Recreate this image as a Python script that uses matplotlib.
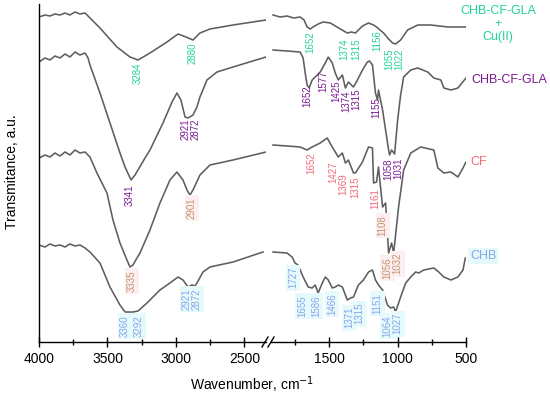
import matplotlib
matplotlib.use("Agg")
import matplotlib.pyplot as plt

plt.rcParams['font.family'] = ['Liberation Sans', 'DejaVu Sans']

# Wavenumber (cm-1) and relative transmittance for each spectrum
# left panel: 4000-2340, right panel: 1910-500

cu_wn_l = [4000, 3956, 3920, 3883, 3847, 3810, 3774, 3737, 3701, 3664, 3642, 3555, 3431, 3336,
           3277, 3190, 3066, 2985, 2927, 2876, 2825, 2752, 2584, 2343]
cu_t_l = [325, 327, 326, 328, 327, 329, 327, 330, 328, 329, 326, 314, 295, 285,
          282, 289, 300, 308, 305, 302, 309, 313, 317, 322]
cu_wn_r = [1911, 1860, 1809, 1760, 1713, 1684, 1662, 1639, 1618, 1581, 1544, 1492, 1419, 1368,
           1338, 1309, 1257, 1213, 1176, 1154, 1103, 1066, 1037, 1015, 978, 927, 853, 757, 632, 500]
cu_t_r = [327, 325, 326, 324, 325, 322, 315, 313, 315, 318, 320, 319, 313, 309,
          310, 309, 316, 319, 317, 315, 309, 303, 299, 298, 302, 312, 317, 317, 315, 315]

gla_wn_l = [4000, 3956, 3920, 3883, 3847, 3810, 3774, 3737, 3701, 3664, 3642, 3628, 3555, 3482,
            3409, 3372, 3328, 3299, 3226, 3190, 3095, 3029, 2993, 2964, 2934, 2912, 2876, 2847,
            2825, 2774, 2701, 2584, 2343]
gla_t_l = [280, 284, 282, 286, 284, 288, 285, 290, 287, 289, 284, 277, 249, 219,
           189, 175, 162, 167, 184, 192, 219, 240, 249, 242, 225, 224, 227, 235,
           245, 262, 270, 275, 285]
gla_wn_r = [1911, 1809, 1713, 1691, 1676, 1662, 1647, 1625, 1588, 1566, 1529, 1507, 1478, 1456,
            1434, 1404, 1382, 1360, 1323, 1294, 1257, 1221, 1206, 1184, 1162, 1147, 1140, 1110,
            1088, 1066, 1059, 1044, 1022, 1000, 978, 956, 904, 853, 780, 735, 684, 662, 610, 559, 500]
gla_t_r = [292, 291, 290, 284, 269, 257, 254, 262, 267, 270, 279, 285, 279, 269,
           262, 267, 254, 260, 255, 262, 272, 280, 281, 277, 249, 242, 252, 232,
           212, 192, 187, 192, 188, 222, 247, 265, 272, 274, 270, 264, 262, 254, 252, 254, 264]

cf_wn_l = [4000, 3956, 3920, 3883, 3847, 3810, 3774, 3737, 3701, 3664, 3628, 3577, 3504, 3460,
           3409, 3358, 3336, 3314, 3285, 3263, 3190, 3117, 3044, 2993, 2949, 2920, 2898, 2876,
           2825, 2752, 2584, 2343]
cf_t_l = [184, 187, 185, 189, 186, 190, 187, 192, 189, 190, 185, 169, 149, 122,
          99, 82, 75, 77, 84, 89, 112, 139, 162, 170, 162, 152, 147, 152,
          167, 177, 182, 190]
cf_wn_r = [1911, 1809, 1713, 1662, 1639, 1566, 1515, 1478, 1434, 1404, 1382, 1360, 1323, 1309,
           1257, 1213, 1184, 1176, 1154, 1140, 1110, 1088, 1066, 1044, 1029, 993, 956, 904,
           831, 735, 706, 662, 610, 559, 522, 500]
cf_t_r = [197, 196, 195, 192, 194, 199, 204, 195, 185, 189, 179, 182, 169, 169,
          180, 195, 194, 159, 160, 175, 135, 139, 89, 99, 89, 135, 172, 189,
          195, 192, 174, 169, 170, 165, 174, 180]

chb_wn_l = [4000, 3956, 3920, 3883, 3847, 3810, 3774, 3737, 3701, 3664, 3628, 3555, 3482, 3409,
            3372, 3314, 3277, 3212, 3117, 3044, 2985, 2949, 2912, 2883, 2862, 2847, 2803, 2752,
            2584, 2365]
chb_t_l = [97, 95, 98, 96, 97, 95, 98, 96, 97, 94, 90, 79, 55, 37,
           30, 30, 31, 39, 52, 59, 65, 62, 55, 57, 56, 59, 70, 75,
           80, 90]
chb_wn_r = [1911, 1809, 1772, 1750, 1728, 1691, 1654, 1625, 1603, 1581, 1551, 1529, 1507, 1478,
            1456, 1434, 1404, 1368, 1345, 1323, 1287, 1250, 1213, 1184, 1162, 1140, 1110, 1074,
            1051, 1029, 1015, 978, 941, 904, 868, 846, 809, 735, 699, 662, 610, 559, 522, 505]
chb_t_r = [90, 89, 85, 79, 77, 65, 55, 54, 57, 49, 59, 65, 62, 54,
           55, 57, 55, 42, 44, 45, 57, 62, 70, 72, 62, 57, 52, 37,
           34, 35, 30, 45, 59, 65, 70, 69, 72, 74, 70, 65, 62, 65, 72, 84]

# peak labels: (text, wavenumber, top of text)
cu_peaks = [("3284", 3277, 280), ("2880", 2876, 300), ("1652", 1639, 311), ("1374", 1389, 304),
            ("1315", 1301, 304), ("1156", 1147, 312), ("1055", 1062, 294), ("1022", 988, 294)]
gla_peaks = [("3341", 3336, 157), ("2921", 2930, 224), ("2872", 2858, 224), ("1652", 1662, 257),
             ("1577", 1544, 272), ("1425", 1445, 262), ("1374", 1375, 252), ("1315", 1305, 254),
             ("1155", 1154, 245), ("1058", 1068, 183), ("1031", 998, 184)]
cf_peaks = [("1652", 1632, 190), ("1427", 1470, 180), ("1369", 1397, 169), ("1315", 1309, 165),
            ("1161", 1162, 154)]
cf_peaks_boxed = [("3335", 3321, 72), ("2901", 2883, 145), ("1108", 1110, 127),
                  ("1056", 1074, 85), ("1032", 1000, 89)]
chb_peaks = [("3360", 3372, 27), ("3292", 3270, 27), ("2921", 2920, 54), ("2872", 2847, 54),
             ("1727", 1764, 75), ("1655", 1698, 47), ("1586", 1596, 47), ("1466", 1478, 49),
             ("1371", 1353, 35), ("1315", 1279, 39), ("1151", 1147, 49), ("1064", 1074, 27),
             ("1027", 1000, 29)]

c_cu = '#22d39a'
c_gla = '#7a1a8e'
c_cf = '#f26b7a'
c_tan = '#c4946e'
c_chb = '#86a6ee'
line_c = '#5e5e5e'

fig = plt.figure(figsize=(5.5, 3.98), dpi=100)
W, H = 550, 398
axL = fig.add_axes([39 / W, 1 - 342 / H, (266 - 39) / W, 338 / H])
axR = fig.add_axes([271 / W, 1 - 342 / H, (466 - 271) / W, 338 / H])

for wl, tl, wr, tr in [(cu_wn_l, cu_t_l, cu_wn_r, cu_t_r), (gla_wn_l, gla_t_l, gla_wn_r, gla_t_r),
                       (cf_wn_l, cf_t_l, cf_wn_r, cf_t_r), (chb_wn_l, chb_t_l, chb_wn_r, chb_t_r)]:
    axL.plot(wl, tl, color=line_c, lw=1.15)
    axR.plot(wr, tr, color=line_c, lw=1.15)

axL.set_xlim(4000, 2343)
axR.set_xlim(1926, 500)
for ax in (axL, axR):
    ax.set_ylim(0, 338)
    ax.set_yticks([])
    ax.spines['top'].set_visible(False)
    ax.spines['right'].set_visible(False)
    ax.tick_params(axis='x', labelsize=10, direction='inout', length=7, width=1)
    ax.tick_params(axis='x', which='minor', direction='inout', length=4, width=1)
    ax.spines['bottom'].set_linewidth(1)
    ax.spines['left'].set_linewidth(1)
axR.spines['left'].set_visible(False)
axL.set_xticks([4000, 3500, 3000, 2500])
axL.set_xticks([3750, 3250, 2750], minor=True)
axR.set_xticks([1500, 1000, 500])
axR.set_xticks([1750, 1250, 750], minor=True)
axL.patch.set_alpha(0)
axR.patch.set_alpha(0)

# break marks on the x axis
for xb in (265, 271):
    fig.add_artist(plt.Line2D([(xb - 3) / W, (xb + 3) / W], [1 - 347 / H, 1 - 337 / H],
                              color='black', lw=1))


def put_labels(ax, peaks, color, fs, bg=None):
    for txt, wn, top in peaks:
        box = None
        if bg is not None:
            box = dict(facecolor=bg, edgecolor='none', pad=1.5)
        ax.text(wn, top, txt, rotation=90, ha='center', va='top', fontsize=fs, color=color, bbox=box)


for txt, wn, top in cu_peaks:
    put_labels(axL if wn > 2000 else axR, [(txt, wn, top)], c_cu, 7)
for txt, wn, top in gla_peaks:
    put_labels(axL if wn > 2000 else axR, [(txt, wn, top)], c_gla, 7)
for txt, wn, top in cf_peaks:
    put_labels(axL if wn > 2000 else axR, [(txt, wn, top)], c_cf, 7)
for txt, wn, top in cf_peaks_boxed:
    put_labels(axL if wn > 2000 else axR, [(txt, wn, top)], c_tan, 7, bg='#fdeef2')
for txt, wn, top in chb_peaks:
    put_labels(axL if wn > 2000 else axR, [(txt, wn, top)], c_chb, 7, bg='#e6fafc')

# sample names
axR.text(265, 318, "CHB-CF-GLA\n+\nCu(II)", ha='center', va='center', fontsize=9,
         color=c_cu, linespacing=1.15)
axR.text(463, 262, "CHB-CF-GLA", ha='left', va='center', fontsize=9, color=c_gla)
axR.text(471, 180, "CF", ha='left', va='center', fontsize=9, color=c_cf)
axR.text(471, 86, "CHB", ha='left', va='center', fontsize=9, color=c_chb,
         bbox=dict(facecolor='#e6fafc', edgecolor='none', pad=1.5))

fig.text(252 / W, 1 - 385 / H, "Wavenumber, cm$^{-1}$", ha='center', va='center', fontsize=10)
fig.text(12 / W, 1 - 172 / H, "Transmitance, a.u.", ha='center', va='center', rotation=90, fontsize=10)

fig.savefig("out.png", dpi=100)
